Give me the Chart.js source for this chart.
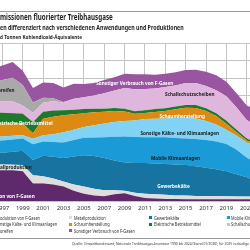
<!DOCTYPE html>
<html><head><meta charset="utf-8">
<script src="https://cdn.jsdelivr.net/npm/chart.js@4"></script>
<style>
html,body{margin:0;padding:0;width:250px;height:250px;overflow:hidden;background:#fff;font-family:"Noto Sans",sans-serif;color:#1d1d1d;}
#wrap{position:absolute;left:-99px;top:0;width:428px;height:215px;}
.t{position:absolute;white-space:nowrap;transform-origin:0 0;line-height:1;z-index:2;}
.pre{position:absolute;right:100%;top:0;white-space:nowrap;}
.rule{position:absolute;left:0;width:250px;height:1px;background:#9a9a9a;z-index:2;}
.mk{position:absolute;width:3px;height:3px;z-index:2;}
</style></head>
<body>
<div id="wrap"><canvas id="c"></canvas></div>
<div class="rule" style="top:11px"></div>
<div class="t" style="left:0;top:12.6px;font-size:16px;font-weight:700;transform:scale(0.39,0.5)"><span class="pre">E</span>missionen fluorierter Treibhausgase</div>
<div class="t" style="left:0;top:23.8px;font-size:16px;font-weight:700;transform:scale(0.33,0.42)"><span class="pre">Emission</span>en differenziert nach verschiedenen Anwendungen und Produktionen</div>
<div class="t" style="left:0;top:34px;font-size:16px;font-weight:700;transform:scale(0.29,0.37)"><span class="pre">in Tausen</span>d Tonnen Kohlendioxid-Äquivalente</div>
<div id="legend"></div>
<div class="rule" style="top:238px"></div>
<div class="t" style="left:72px;top:241px;font-size:10px;color:#333;transform:scale(0.335,0.43)">Quelle: Umweltbundesamt, Nationale Treibhausgas-Inventare 1990 bis 2024 (Stand 01/2026), für 2025 vorläufige Daten (Nahzeitprognose)</div>
<script>
const years = [1996,1997,1998,1999,2000,2001,2002,2003,2004,2005,2006,2007,2008,2009,2010,2011,2012,2013,2014,2015,2016,2017,2018,2019,2020,2021,2022];
const produktion = [3510,3510,3510,3390,1990,1990,1870,1640,1170,820,640,530,760,880,580,350,290,230,230,210,210,210,200,200,200,190,190];
const metall = [640,640,620,700,940,820,700,580,700,820,760,700,470,290,350,470,470,470,410,410,370,370,350,330,300,320,280];
const gewerbe = [1340,1340,1490,1640,1750,2340,2460,2690,3210,3570,3740,3680,3390,3210,3390,3510,3510,3510,3510,3470,3390,3210,3070,2860,2540,2190,1750];
const mobile = [1340,1400,1400,1400,1790,1640,1700,1750,1870,1990,2100,2340,2690,2980,2980,2920,2980,3040,3040,3040,3100,3160,3160,3100,2810,2220,2100];
const sonstKaelte = [470,470,410,350,610,700,880,1170,1170,1230,1400,1580,1700,1750,1870,2100,2130,2160,2260,2340,2340,2160,1930,1640,1580,1750,1870];
const schaum = [1640,1520,1460,1340,640,1870,1990,1930,1750,1580,1460,1340,1230,1080,760,670,760,850,990,1150,1180,1150,970,680,410,230,230];
const elektrisch = [1110,1170,1110,1110,1290,820,700,580,530,470,410,350,350,330,290,330,330,320,320,320,340,320,320,320,290,230,230];
const schall = [1290,1290,1340,940,1050,1050,1050,880,1230,1340,1520,1750,1990,2340,2510,2400,2340,2400,2400,2510,2510,2510,2630,2810,2510,2100,1870];
const autoreifen = [2340,2450,2690,2340,1170,530,350,60,20,0,0,0,0,0,0,0,0,0,0,0,0,0,0,0,0,0,0];
const sonstVerbr = [1400,1640,1810,1640,1640,1750,1750,1640,1700,1520,1400,1520,1520,1640,1700,1700,1580,1520,1520,1460,1520,1640,1700,1640,1640,1640,1870];

const names = ['Produktion von F-Gasen','Metallproduktion','Gewerbekälte','Mobile Klimaanlagen','Sonstige Kälte- und Klimaanlagen','Schaumherstellung','Elektrische Betriebsmittel','Schallschutzscheiben','Autoreifen','Sonstiger Verbrauch von F-Gasen'];
const colors = ['#5e2a6c','#dedede','#17739f','#1a9bd7','#80d3f4','#dc8a12','#1e7a2a','#dfb7dc','#a9a9a9','#9a55a0'];
const series = [produktion,metall,gewerbe,mobile,sonstKaelte,schaum,elektrisch,schall,autoreifen,sonstVerbr];

// in-chart labels anchored in data coordinates (year, value)
const inLabels = [
 {t:'Sonstiger Verbrauch von F-Gasen', x:2010.0, y:13440, c:'#fff', a:'center'},
 {t:'Schallschutzscheiben', x:2015.4, y:12120, c:'#1d1d1d', a:'center'},
 {t:'Schaumherstellung', x:2014.66, y:9700, c:'#fff', a:'center'},
 {t:'Sonstige Kälte- und Klimaanlagen', x:2014.42, y:7750, c:'#1d1d1d', a:'center'},
 {t:'Mobile Klimaanlagen', x:2014.0, y:4910, c:'#1d1d1d', a:'center'},
 {t:'Gewerbekälte', x:2013.8, y:1640, c:'#fff', a:'center'},
 {t:'Autoreifen', x:1998.2, y:12590, c:'#1d1d1d', a:'right'},
 {t:'Elektrische Betriebsmittel', x:2001.94, y:8800, c:'#fff', a:'right'},
 {t:'Metallproduktion', x:1999.88, y:3860, c:'#1d1d1d', a:'right'},
 {t:'Produktion von F-Gasen', x:2000.17, y:580, c:'#fff', a:'right'}
];

const labelPlugin = {
  id:'inLabels',
  afterDatasetsDraw(chart){
    const ctx = chart.ctx, xs = chart.scales.x, ys = chart.scales.y;
    ctx.save();
    ctx.font = 'bold 6px "Noto Sans"';
    ctx.textBaseline = 'middle';
    inLabels.forEach(l=>{
      ctx.save();
      ctx.translate(xs.getPixelForValue(l.x), ys.getPixelForValue(l.y));
      ctx.scale(0.78,1);
      ctx.textAlign = l.a;
      ctx.fillStyle = l.c;
      ctx.fillText(l.t,0,0);
      ctx.restore();
    });
    ctx.restore();
  }
};

const datasets = series.map((vals,i)=>({
  label: names[i],
  data: years.map((y,j)=>({x:y, y:vals[j]})),
  backgroundColor: colors[i],
  borderColor: colors[i],
  borderWidth: 0,
  pointRadius: 0,
  tension: 0,
  fill: i===0 ? 'origin' : '-1'
}));

new Chart(document.getElementById('c'), {
  type:'line',
  data:{datasets},
  options:{
    responsive:true, maintainAspectRatio:false, animation:false, devicePixelRatio:1,
    layout:{padding:{left:20,right:21.16,top:43,bottom:0}},
    plugins:{legend:{display:false}, title:{display:false}, tooltip:{enabled:false}},
    scales:{
      x:{type:'linear', min:1989, max:2027,
         ticks:{stepSize:2, callback:v=>String(v), color:'#333', font:{size:6, family:'Noto Sans'}, padding:3.5, maxRotation:0, autoSkip:false},
         grid:{color:'#c4c4c4', drawTicks:false, lineWidth:1},
         border:{display:false},
         afterFit:s=>{s.height=14;}},
      y:{stacked:true, min:0, max:18000,
         ticks:{display:false, stepSize:2000},
         grid:{color:'#c4c4c4', drawTicks:false, lineWidth:1},
         border:{display:false},
         afterFit:s=>{s.width=0;}}
    }
  },
  plugins:[labelPlugin]
});

// HTML legend (4 columns, row-major)
const legCols = [-11, 69.3, 149, 226.7];
const legRows = [217.5, 224, 230.5];
const prefixes = {0:'Pr',4:'So',8:'Aut'};
const leg = document.getElementById('legend');
names.forEach((n,i)=>{
  const col = i%4, row = Math.floor(i/4);
  const mx = legCols[col], cy = legRows[row];
  if(col===0){
    const d = document.createElement('div');
    d.className='t';
    d.style.cssText = `left:0;top:${cy-2.6}px;font-size:10px;color:#333;transform:scale(0.39,0.5)`;
    const p = prefixes[i];
    d.innerHTML = `<span class="pre"><span style="display:inline-block;width:8px;height:6px;background:${colors[i]};margin-right:4px"></span>${p}</span>${n.slice(p.length)}`;
    leg.appendChild(d);
  } else {
    const m = document.createElement('div');
    m.className='mk';
    m.style.cssText = `left:${mx}px;top:${cy-1.5}px;background:${colors[i]}`;
    leg.appendChild(m);
    const d = document.createElement('div');
    d.className='t';
    d.style.cssText = `left:${mx+4.5}px;top:${cy-2.6}px;font-size:10px;color:#333;transform:scale(0.39,0.5)`;
    d.textContent = n;
    leg.appendChild(d);
  }
});
</script>
</body></html>
